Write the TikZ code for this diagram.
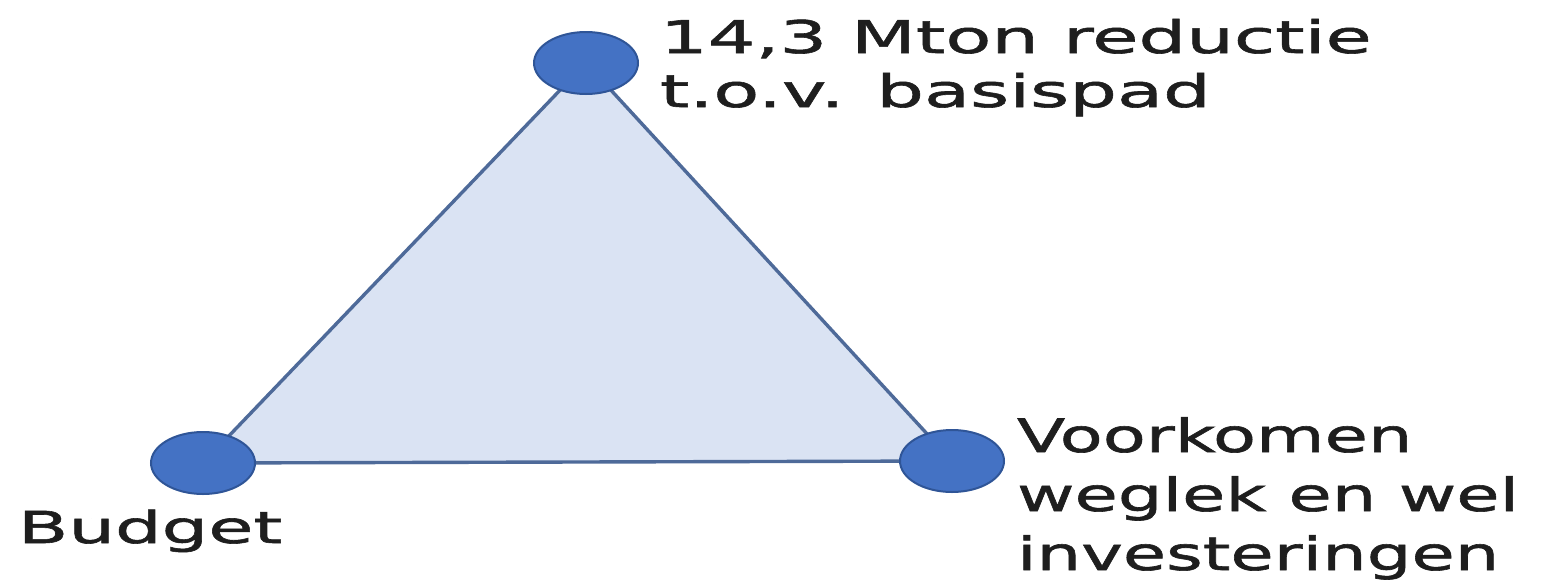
\documentclass[tikz,border=0pt]{standalone}
\usepackage{fontspec}
\usetikzlibrary{shapes.geometric}
\newfontfamily\lbl[FakeStretch=1.67,FakeBold=1.3]{DejaVu Sans}
\newfontfamily\lblr[FakeStretch=1.53,FakeBold=1.3]{DejaVu Sans}
\definecolor{dotfill}{HTML}{4472C4}
\definecolor{dotline}{HTML}{2F5597}
\definecolor{trifill}{HTML}{DAE3F3}
\definecolor{triline}{HTML}{4E6A99}
\definecolor{txt}{HTML}{1E1E1E}
\tikzset{
  dot/.style={ellipse, draw=dotline, fill=dotfill, line width=2pt, minimum width=104pt, minimum height=62pt, inner sep=0pt},
  tri/.style={draw=triline, fill=trifill, line width=3.4pt, line join=miter},
  lab/.style={inner sep=0pt, outer sep=0pt, text=txt, align=left, anchor=base west}
}
\begin{document}
\begin{tikzpicture}[x=1pt,y=-1pt]
\useasboundingbox (0,0) rectangle (1562,584);
\coordinate (pt) at (586,63);
\coordinate (pl) at (203,463);
\coordinate (pr) at (952,461);
\draw[tri] (pt) -- (pl) -- (pr) -- cycle;
\node[dot] (top) at (pt) {};
\node[dot] (left) at (pl) {};
\node[dot] (right) at (pr) {};
\node[lab, font=\lbl\fontsize{45}{54}\selectfont] (ltop) at (660,107) {14,3 Mton reductie\\t.o.v. basispad};
\node[lab, font=\lbl\fontsize{44}{58}\selectfont] (lleft) at (18,543) {Budget};
\node[lab, font=\lblr\fontsize{46}{59}\selectfont] (lright) at (1017,570) {Voorkomen\\weglek en wel\\investeringen};
\end{tikzpicture}
\end{document}
